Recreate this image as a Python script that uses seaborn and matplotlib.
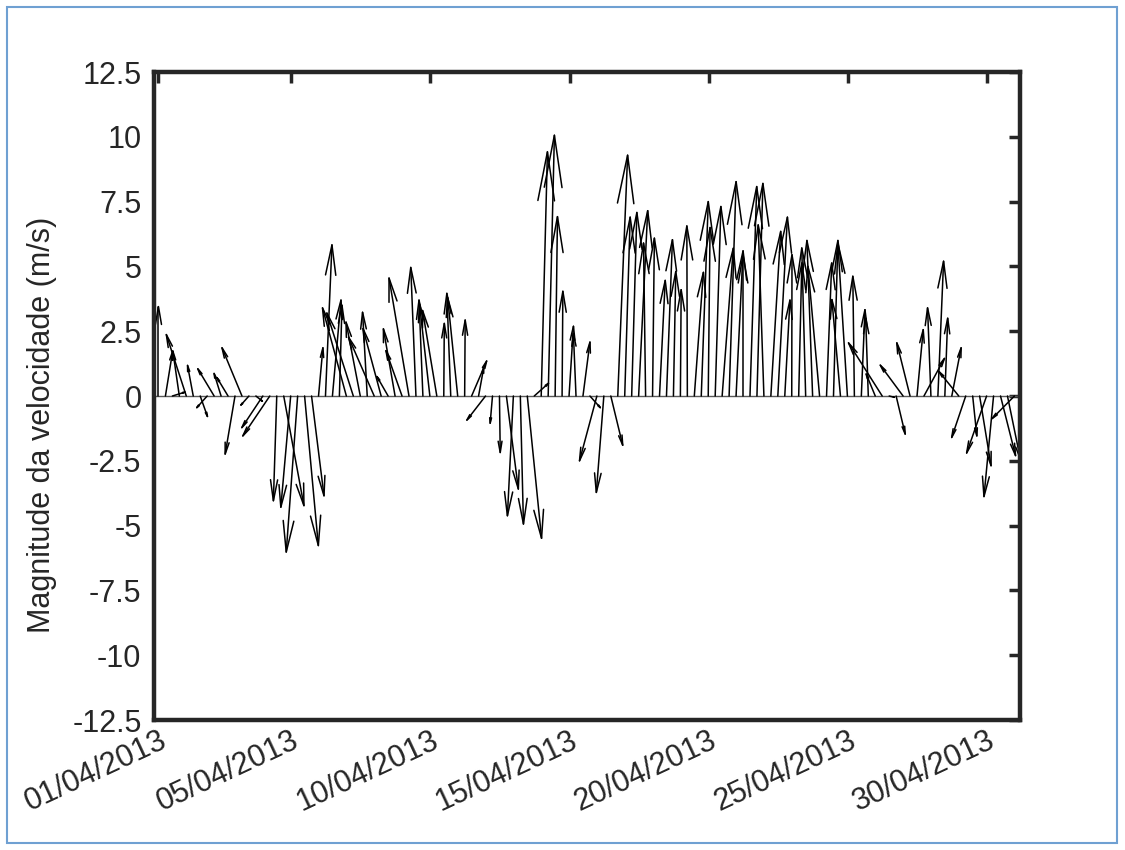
import numpy as np
import pandas as pd
import matplotlib
matplotlib.use("Agg")
import matplotlib.pyplot as plt
from matplotlib.patches import Rectangle
import seaborn as sns

# ---------------- data (6-hourly wind vectors, m/s) ----------------
step_days = 0.25
u_comp = [0.00, 0.28, 0.49, -0.25, -0.77, -0.22, 0.28, -0.40, -0.63, -0.27,
          -0.43, -0.38, -0.77, -0.31, 0.25, -0.81, -1.04, -0.13, 0.78, -0.38,
          -0.44, 0.53, 0.48, 0.17, 0.25, 0.33, 0.10, -0.92, -1.02, -0.55,
          -0.18, -0.99, -0.70, -0.43, -0.45, -0.62, -0.77, -0.20, -0.15, -0.40,
          -0.55, 0.02, -0.15, -0.39, 0.02, 0.58, 0.20, -0.72, -0.09, 0.03,
          0.46, -0.23, 0.12, 0.55, 0.55, 0.24, 0.24, 0.09, 0.03, 0.17,
          -0.10, 0.27, 0.40, -0.67, -0.29, 0.46, 0.38, 0.21, 0.20, 0.35,
          -0.08, 0.07, 0.22, 0.23, 0.09, 0.03, -0.02, 0.35, 0.27, 0.07,
          0.22, 0.43, 0.27, 0.27, 0.00, 0.26, 0.23, -0.22, 0.38, 0.37,
          0.20, 0.01, 0.12, -0.15, -0.22, -0.45, 0.20, 0.17, -0.33, -0.37,
          -0.06, 0.14, -0.10, -0.35, -1.30, 0.20, 0.35, -0.88, -0.51, 0.24,
          0.79, -0.13, 0.22, 0.11, 0.36, -0.76, -0.54, 0.16, 0.44, -0.77,
          -0.37, 0.58, 0.50, -0.86]
v_comp = [3.45, 1.73, 0.15, 1.73, 2.37, 1.18, -0.79, -0.45, 1.05, 0.87,
          0.71, -2.24, 1.86, -0.35, -0.20, -1.22, -1.54, -4.04, -4.23, -4.29,
          -6.02, -5.77, -3.85, 1.86, 5.83, 3.70, 3.50, 3.40, 3.20, 2.85,
          3.23, 2.27, 2.60, 0.75, 2.59, 1.75, 4.55, 4.96, 3.70, 3.55,
          3.30, 2.80, 3.96, 3.80, 2.93, 1.35, 1.10, -0.93, -1.05, -2.18,
          -3.59, -4.62, -4.94, -5.49, 0.49, 9.42, 10.06, 6.92, 4.04, 2.69,
          2.40, 2.08, -0.45, -2.50, -3.72, -1.90, 9.29, 6.90, 7.08, 7.15,
          5.90, 6.09, 4.46, 6.03, 4.80, 4.10, 6.56, 4.77, 7.50, 6.50,
          7.31, 5.70, 8.27, 5.60, 5.45, 8.08, 8.20, 6.60, 6.35, 6.90,
          3.70, 5.45, 5.13, 5.71, 6.00, 5.00, 5.13, 6.00, 3.72, 5.90,
          4.62, 3.33, 3.00, 0.85, 2.05, -0.05, -1.47, 1.19, 2.05, 2.56,
          1.45, 3.40, 5.20, 3.00, 1.86, 0.94, -1.60, -1.54, -2.69, -2.20,
          -3.88, -2.30, -2.44, -0.87]
tick_days = [0.0, 4.77, 9.77, 14.77, 19.77, 24.77, 29.77]
tick_labels = ["01/04/2013", "05/04/2013", "10/04/2013", "15/04/2013",
               "20/04/2013", "25/04/2013", "30/04/2013"]
ytick_vals = [-12.5, -10, -7.5, -5, -2.5, 0, 2.5, 5, 7.5, 10, 12.5]
ytick_labels = ["-12.5", "-10", "-7.5", "-5", "-2.5", "0", "2.5", "5",
                "7.5", "10", "12.5"]
ylabel = "Magnitude da velocidade (m/s)"

# ---------------- style ----------------
sns.set_theme(style="white")
plt.rcParams["font.family"] = ["Liberation Sans", "DejaVu Sans"]
ink = "#262626"

fig = plt.figure(figsize=(11.25, 8.5), dpi=100)
ax = fig.add_axes([154 / 1125, 1 - 720 / 850, (1020 - 154) / 1125, (720 - 72) / 850])
xlim = (-0.16, 30.95)
ylim = (-12.5, 12.5)
ax.set_xlim(*xlim)
ax.set_ylim(*ylim)

# ---------------- feather arrows (MATLAB-like open heads) ----------------
t = np.arange(len(u_comp)) * step_days
U = np.asarray(u_comp, float)
V = np.asarray(v_comp, float)
bb = ax.get_window_extent()
px_day = bb.width / (xlim[1] - xlim[0])
px_unit = bb.height / (ylim[1] - ylim[0])
k = px_unit / px_day  # days of x per (m/s) of screen length

L = np.hypot(U, V)
dx, dy = U / L, V / L
hl = 0.2 * L
hw = 0.034 * L
b1x = U - hl * dx - hw * dy
b1y = V - hl * dy + hw * dx
b2x = U - hl * dx + hw * dy
b2y = V - hl * dy - hw * dx

rows = []
for i in range(len(U)):
    rows += [(t[i], 0.0, 2 * i, 0), (t[i] + U[i] * k, V[i], 2 * i, 1)]
    rows += [(t[i] + b1x[i] * k, b1y[i], 2 * i + 1, 0),
             (t[i] + U[i] * k, V[i], 2 * i + 1, 1),
             (t[i] + b2x[i] * k, b2y[i], 2 * i + 1, 2)]
df = pd.DataFrame(rows, columns=["x", "y", "seg", "order"])

ax.axhline(0, color="0.35", lw=1.0, zorder=1)
sns.lineplot(data=df, x="x", y="y", units="seg", estimator=None, sort=False,
             color="black", lw=1.1, ax=ax, legend=False, zorder=2)

# ---------------- axes cosmetics ----------------
for s in ax.spines.values():
    s.set_visible(True)
    s.set_color(ink)
    s.set_linewidth(3.2)
ax.set_xticks(tick_days)
ax.set_xticklabels(tick_labels, rotation=25, ha="right", va="top",
                   rotation_mode="anchor")
ax.set_yticks(ytick_vals)
ax.set_yticklabels(ytick_labels)
ax.tick_params(axis="both", direction="in", length=8, width=2.5, color=ink,
               labelcolor=ink, labelsize=22, top=True, right=True)
ax.tick_params(axis="x", pad=4)
ax.tick_params(axis="y", pad=9)
ax.set_xlabel("")
ax.set_ylabel(ylabel, fontsize=22, color=ink)
ax.yaxis.set_label_coords(-0.112, 0.455)

fig.patches.append(Rectangle((7 / 1125, 7 / 850), (1117 - 7) / 1125, (843 - 7) / 850,
                             transform=fig.transFigure, fill=False,
                             ec="#6fa0d2", lw=1.5))

fig.savefig("out.png", dpi=100, facecolor="white")
